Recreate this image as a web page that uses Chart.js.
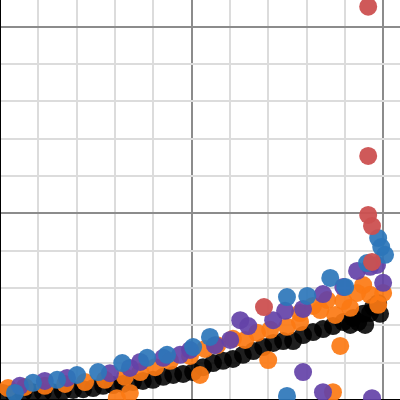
<!DOCTYPE html>
<html>
<head>
<meta charset="utf-8">
<script src="https://cdn.jsdelivr.net/npm/chart.js@4.4.1/dist/chart.umd.min.js"></script>
<style>
	html, body { margin: 0; padding: 0; background: #fff; }
	#wrap { width: 400px; height: 400px; }
</style>
</head>
<body>
<div id="wrap"><canvas id="chart" width="400" height="400"></canvas></div>
<script>
// values, one list of [x, y] pairs per series
const redPoints = [
	[9.61, 10.54], [9.61, 6.54], [9.61, 4.96], [9.71, 4.66], [9.71, 3.70], [6.89, 2.49]
]
const bluePoints = [
	[0.39, 0.19], [0.86, 0.46], [1.49, 0.54], [2.01, 0.67], [2.56, 0.75], [3.19, 0.99],
	[3.84, 1.13], [4.36, 1.21], [5.04, 1.42], [5.48, 1.69], [7.49, 2.76], [8.02, 2.79],
	[8.62, 3.27], [9.01, 3.03], [9.58, 3.67], [9.87, 4.34], [9.95, 4.10], [10.05, 3.89],
	[7.49, 0.11]
]
const purplePoints = [
	[0.52, 0.38], [1.17, 0.51], [1.75, 0.59], [2.87, 0.72], [3.39, 0.86], [3.66, 1.02],
	[4.26, 1.13], [4.70, 1.21], [4.96, 1.34], [5.61, 1.47], [6.01, 1.61], [6.27, 2.14],
	[6.48, 1.98], [7.13, 2.14], [7.44, 2.39], [7.91, 2.44], [8.43, 2.84], [8.96, 3.03],
	[9.32, 3.46], [9.66, 3.57], [9.84, 3.62], [10.00, 3.14], [7.91, 0.75], [8.43, 0.21],
	[9.71, 0.05]
]
const orangePoints = [
	[0.21, 0.32], [0.65, 0.35], [1.17, 0.38], [1.70, 0.43], [2.22, 0.48], [2.74, 0.54],
	[3.26, 0.62], [3.66, 0.75], [4.05, 0.88], [4.44, 1.05], [4.96, 1.18], [5.35, 1.37],
	[5.67, 1.47], [6.08, 1.64], [6.40, 1.61], [6.71, 1.80], [7.05, 1.88], [7.49, 1.96],
	[7.83, 2.09], [8.17, 2.52], [8.54, 2.68], [8.96, 2.65], [9.32, 2.87], [9.48, 3.08],
	[10.00, 2.87], [7.83, 2.33], [8.36, 2.41], [8.75, 2.28], [9.14, 2.47], [9.66, 2.82],
	[9.87, 2.55], [7.00, 1.07], [8.88, 1.45], [8.69, 0.21], [3.39, 0.19], [3.05, 0.05],
	[5.22, 0.67]
]
const blackPoints = [
	[0.08, 0.19], [0.34, 0.19], [0.60, 0.19], [0.86, 0.21], [1.12, 0.21], [1.38, 0.21],
	[1.64, 0.24], [1.91, 0.27], [2.17, 0.29], [2.43, 0.32], [2.69, 0.38], [2.95, 0.40],
	[3.21, 0.43], [3.47, 0.48], [3.73, 0.51], [3.99, 0.54], [4.26, 0.62], [4.52, 0.67],
	[4.78, 0.70], [5.04, 0.75], [5.30, 0.88], [5.56, 0.99], [5.82, 1.05], [6.08, 1.10],
	[6.34, 1.21], [6.61, 1.31], [6.87, 1.42], [7.13, 1.53], [7.39, 1.58], [7.65, 1.58],
	[7.91, 1.74], [8.17, 1.82], [8.43, 1.90], [8.69, 1.98], [8.96, 2.09], [9.14, 2.01],
	[9.22, 2.20], [9.35, 2.09], [9.48, 2.31], [9.53, 2.01], [9.66, 2.33], [9.74, 2.49],
	[9.87, 2.60], [9.92, 2.31]
]

const toXY = pts => pts.map(([x, y]) => ({ x, y }))

const series = [
	{ data: redPoints, color: 'rgba(204, 80, 80, 0.95)' },
	{ data: bluePoints, color: 'rgba(44, 118, 186, 0.92)' },
	{ data: purplePoints, color: 'rgba(100, 66, 168, 0.92)' },
	{ data: orangePoints, color: 'rgba(252, 122, 20, 0.92)' },
	{ data: blackPoints, color: 'rgba(0, 0, 0, 0.88)' }
]

const gridColor = ctx => {
	const v = ctx.tick.value
	if (Math.abs(v) < 1e-9) return '#000'
	return Math.abs(v % 5) < 1e-9 ? '#8c8c8c' : '#dcdcdc'
}

const axis = (max) => ({
	type: 'linear',
	min: 0,
	max: max,
	ticks: { display: false, stepSize: 1, includeBounds: false },
	grid: { drawTicks: false, color: gridColor, lineWidth: 2 },
	border: { display: true, color: '#000', width: 2 }
})

new Chart(document.getElementById('chart'), {
	type: 'scatter',
	data: {
		datasets: series.map(s => ({
			data: toXY(s.data),
			backgroundColor: s.color,
			borderWidth: 0,
			pointRadius: 9,
			pointHoverRadius: 9
		}))
	},
	options: {
		responsive: false,
		animation: false,
		layout: { padding: 0, autoPadding: false },
		scales: {
			x: axis(10.44),
			y: axis(10.72)
		},
		plugins: {
			legend: { display: false },
			tooltip: { enabled: false }
		}
	}
})
</script>
</body>
</html>
